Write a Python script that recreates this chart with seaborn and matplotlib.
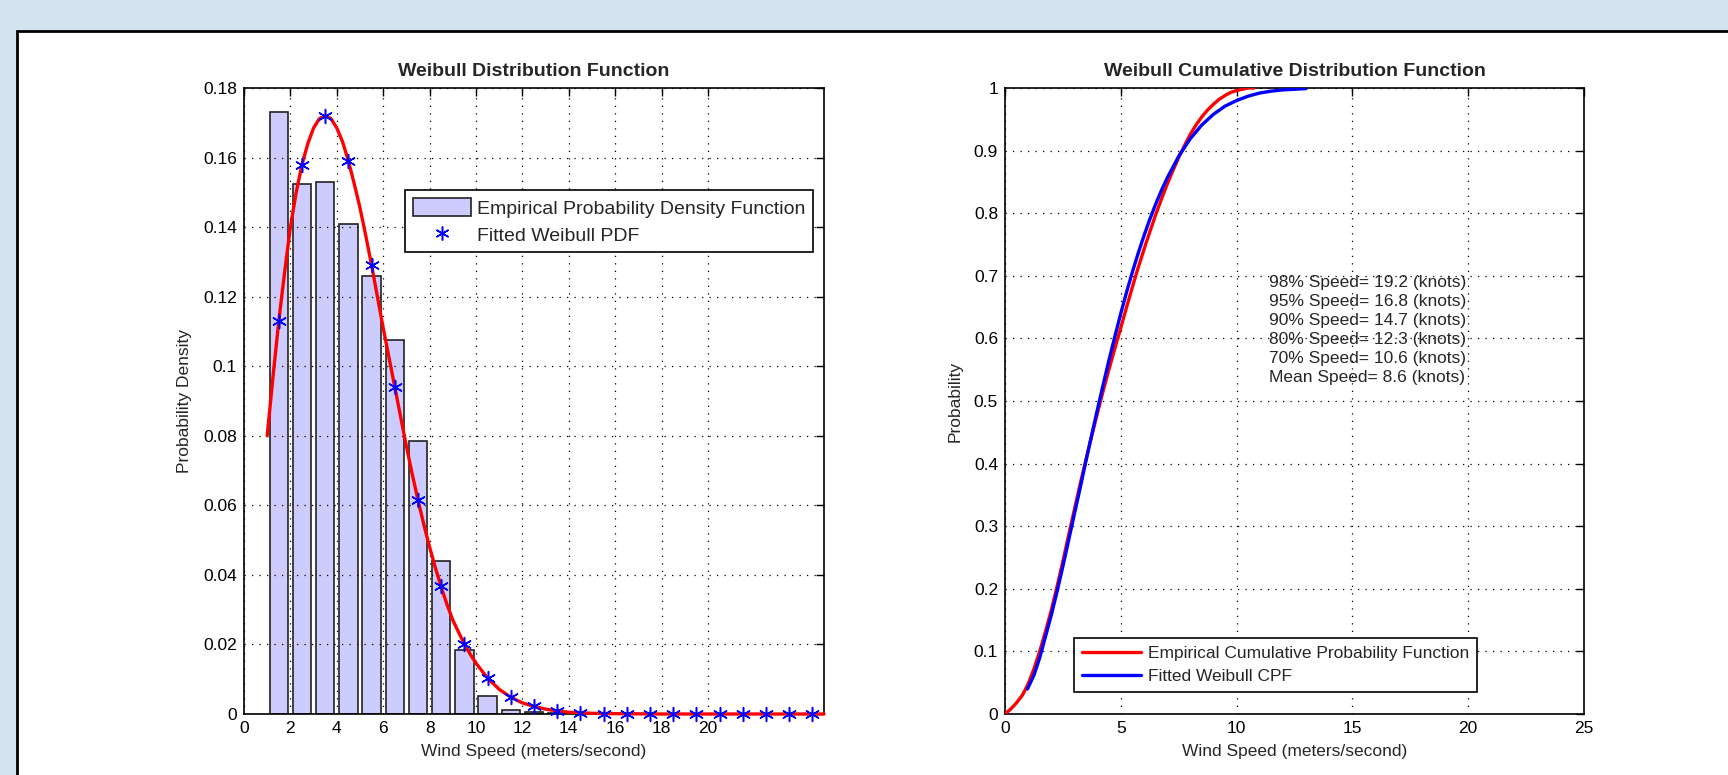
import matplotlib
matplotlib.use("Agg")
import matplotlib.pyplot as plt
import seaborn as sns
from matplotlib.patches import Rectangle, Patch
from matplotlib.lines import Line2D

# ---------------- data ----------------
bin_centers = [1.5, 2.5, 3.5, 4.5, 5.5, 6.5, 7.5, 8.5, 9.5, 10.5, 11.5, 12.5,
               13.5, 14.5, 15.5, 16.5, 17.5, 18.5, 19.5, 20.5, 21.5, 22.5, 23.5, 24.5]
emp_pdf = [0.173, 0.1525, 0.153, 0.141, 0.126, 0.1075, 0.0786, 0.0441, 0.0184, 0.0052,
           0.0012, 0.0005, 0.0003, 0.0, 0.0, 0.0, 0.0, 0.0, 0.0, 0.0, 0.0, 0.0, 0.0, 0.0]
fit_pdf = [0.113, 0.158, 0.172, 0.159, 0.129, 0.094, 0.0615, 0.0368, 0.0201, 0.0103,
           0.0048, 0.0023, 0.001, 0.0004, 0.0001, 0.0, 0.0, 0.0, 0.0, 0.0, 0.0, 0.0, 0.0, 0.0]

curve_x = [1.0, 1.25, 1.5, 1.75, 2.0, 2.25, 2.5, 2.75, 3.0, 3.25, 3.5, 3.75, 4.0, 4.25,
           4.5, 4.75, 5.0, 5.25, 5.5, 5.75, 6.0, 6.25, 6.5, 6.75, 7.0, 7.25, 7.5, 7.75,
           8.0, 8.25, 8.5, 8.75, 9.0, 9.25, 9.5, 9.75, 10.0, 10.5, 11.0, 11.5, 12.0,
           12.5, 13.0, 13.5, 14.0, 15.0, 16.0, 18.0, 25.0]
curve_pdf = [0.080, 0.097, 0.113, 0.127, 0.140, 0.150, 0.158, 0.164, 0.1685, 0.1712,
             0.172, 0.1712, 0.1685, 0.1645, 0.159, 0.1525, 0.1455, 0.1375, 0.129, 0.120,
             0.111, 0.1025, 0.094, 0.0855, 0.077, 0.069, 0.0615, 0.0545, 0.048, 0.042,
             0.0365, 0.0315, 0.027, 0.0235, 0.0201, 0.0172, 0.0146, 0.0103, 0.0071,
             0.0048, 0.0032, 0.0022, 0.0014, 0.0009, 0.0005, 0.0002, 0.0001, 0.0, 0.0]

ecdf_x = [0.0, 0.25, 0.5, 0.75, 1.0, 1.25, 1.5, 1.75, 2.0, 2.25, 2.5, 2.75, 3.0, 3.25,
          3.5, 3.75, 4.0, 4.25, 4.5, 4.75, 5.0, 5.25, 5.5, 5.75, 6.0, 6.25, 6.5, 6.75,
          7.0, 7.25, 7.5, 7.75, 8.0, 8.25, 8.5, 8.75, 9.0, 9.25, 9.5, 9.75, 10.0,
          10.25, 10.5, 10.75]
ecdf_y = [0.0, 0.008, 0.018, 0.030, 0.048, 0.072, 0.100, 0.132, 0.166, 0.204, 0.244,
          0.286, 0.327, 0.368, 0.407, 0.445, 0.482, 0.518, 0.552, 0.585, 0.617, 0.650,
          0.682, 0.713, 0.742, 0.770, 0.797, 0.822, 0.846, 0.868, 0.889, 0.908, 0.926,
          0.941, 0.954, 0.965, 0.974, 0.982, 0.988, 0.993, 0.996, 0.998, 1.0, 1.0]

fcdf_x = [0.97, 1.25, 1.5, 1.75, 2.0, 2.25, 2.5, 2.75, 3.0, 3.25, 3.5, 3.75, 4.0, 4.25,
          4.5, 4.75, 5.0, 5.25, 5.5, 5.75, 6.0, 6.25, 6.5, 6.75, 7.0, 7.5, 8.0, 8.5,
          9.0, 9.5, 10.0, 10.5, 11.0, 11.5, 12.0, 12.5, 13.0]
fcdf_y = [0.040, 0.062, 0.090, 0.124, 0.158, 0.196, 0.236, 0.278, 0.320, 0.362, 0.405,
          0.447, 0.488, 0.528, 0.567, 0.604, 0.640, 0.674, 0.706, 0.736, 0.764, 0.790,
          0.814, 0.836, 0.856, 0.891, 0.919, 0.941, 0.958, 0.971, 0.980, 0.987, 0.992,
          0.995, 0.997, 0.998, 0.999]

pdf_xticks = [0, 2, 4, 6, 8, 10, 12, 14, 16, 18, 20]
pdf_yticks = [0, 0.02, 0.04, 0.06, 0.08, 0.1, 0.12, 0.14, 0.16, 0.18]
pdf_yticklabels = ["0", "0.02", "0.04", "0.06", "0.08", "0.1", "0.12", "0.14", "0.16", "0.18"]
cdf_xticks = [0, 5, 10, 15, 20, 25]
cdf_yticks = [0, 0.1, 0.2, 0.3, 0.4, 0.5, 0.6, 0.7, 0.8, 0.9, 1.0]
cdf_yticklabels = ["0", "0.1", "0.2", "0.3", "0.4", "0.5", "0.6", "0.7", "0.8", "0.9", "1"]

stats_lines = ["98% Speed= 19.2 (knots)",
               "95% Speed= 16.8 (knots)",
               "90% Speed= 14.7 (knots)",
               "80% Speed= 12.3 (knots)",
               "70% Speed= 10.6 (knots)",
               "Mean Speed= 8.6 (knots)"]

# ---------------- style ----------------
sns.set_style("white")
plt.rcParams["font.family"] = ["Liberation Sans", "DejaVu Sans"]
plt.rcParams["font.size"] = 12

W, H = 1728, 775
fig = plt.figure(figsize=(W / 100, H / 100), dpi=100)
fig.patch.set_facecolor("#d3e4ef")

# white figure panel (MATLAB window) with black frame on top/left
panel = Rectangle((17 / W, -0.05), 1.2, 1 - 31 / H + 0.05, transform=fig.transFigure,
                  facecolor="white", edgecolor="black", linewidth=2, zorder=0)
fig.add_artist(panel)

ax1 = fig.add_axes([244 / W, 1 - 714 / H, 580 / W, 626 / H])
ax2 = fig.add_axes([1005 / W, 1 - 714 / H, 579 / W, 626 / H])

grid_kw = dict(color="black", linestyle=(0, (1, 5)), linewidth=0.9)


def matlab_axes(ax):
    ax.set_facecolor("white")
    for s in ax.spines.values():
        s.set_visible(True)
        s.set_color("black")
        s.set_linewidth(1.2)
    ax.tick_params(direction="in", length=6, width=1, top=True, right=True,
                   labelsize=12.5, colors="black", pad=5)
    ax.set_axisbelow(False)
    ax.grid(True, **grid_kw)


# ---------------- left: PDF ----------------
sns.barplot(x=bin_centers, y=emp_pdf, native_scale=True, width=0.8, ax=ax1,
            color="#ccccff", saturation=1, edgecolor="#222222", linewidth=1.2, zorder=1)
sns.lineplot(x=curve_x, y=curve_pdf, ax=ax1, color="red", linewidth=2.4,
             estimator=None, sort=False, zorder=3, clip_on=False)
sns.scatterplot(x=bin_centers, y=fit_pdf, ax=ax1, marker=(6, 2, 0), s=100,
                color="blue", linewidth=1.1, zorder=4, clip_on=False)

ax1.set_xlim(0, 25)
ax1.set_ylim(0, 0.18)
ax1.set_xticks(pdf_xticks)
ax1.set_xticklabels([str(t) for t in pdf_xticks])
ax1.set_yticks(pdf_yticks)
ax1.set_yticklabels(pdf_yticklabels)
matlab_axes(ax1)
ax1.set_title("Weibull Distribution Function", fontsize=14, fontweight="bold", pad=9)
ax1.set_xlabel("Wind Speed (meters/second)", fontsize=12.5, labelpad=6)
ax1.set_ylabel("Probability Density", fontsize=12.5, labelpad=8)

h1 = [Patch(facecolor="#ccccff", edgecolor="#222222", linewidth=1.2),
      Line2D([], [], marker=(6, 2, 0), color="blue", linestyle="None",
             markersize=10, markeredgewidth=1.1)]
leg1 = ax1.legend(h1, ["Empirical Probability Density Function", "Fitted Weibull PDF"],
                  loc="upper right", bbox_to_anchor=(0.981, 0.837), fontsize=14,
                  frameon=True, fancybox=False, framealpha=1, edgecolor="black",
                  borderpad=0.4, handlelength=3.0, handleheight=1.1, handletextpad=0.3,
                  labelspacing=0.35, borderaxespad=0)
leg1.get_frame().set_linewidth(1.2)
leg1.set_zorder(10)

# ---------------- right: CDF ----------------
sns.lineplot(x=ecdf_x, y=ecdf_y, ax=ax2, color="red", linewidth=2.4,
             estimator=None, sort=False, zorder=3)
sns.lineplot(x=fcdf_x, y=fcdf_y, ax=ax2, color="blue", linewidth=2.4,
             estimator=None, sort=False, zorder=3)
ax2.set_xlim(0, 25)
ax2.set_ylim(0, 1)
ax2.set_xticks(cdf_xticks)
ax2.set_xticklabels([str(t) for t in cdf_xticks])
ax2.set_yticks(cdf_yticks)
ax2.set_yticklabels(cdf_yticklabels)
matlab_axes(ax2)
ax2.set_title("Weibull Cumulative Distribution Function", fontsize=14,
              fontweight="bold", pad=9)
ax2.set_xlabel("Wind Speed (meters/second)", fontsize=12.5, labelpad=6)
ax2.set_ylabel("Probability", fontsize=12.5, labelpad=8)

ax2.text(15.65, 0.613, "\n".join(stats_lines), ha="center", va="center",
         multialignment="center", fontsize=12.5, linespacing=1.33, zorder=5)

h2 = [Line2D([], [], color="red", linewidth=2.4), Line2D([], [], color="blue", linewidth=2.4)]
leg2 = ax2.legend(h2, ["Empirical Cumulative Probability Function", "Fitted Weibull CPF"],
                  loc="lower left", bbox_to_anchor=(0.119, 0.035), fontsize=12.5,
                  frameon=True, fancybox=False, framealpha=1, edgecolor="black",
                  borderpad=0.45, handlelength=3.4, handletextpad=0.4, labelspacing=0.45,
                  borderaxespad=0)
leg2.get_frame().set_linewidth(1.2)
leg2.set_zorder(10)

fig.savefig("out.png", dpi=100, facecolor=fig.get_facecolor())
